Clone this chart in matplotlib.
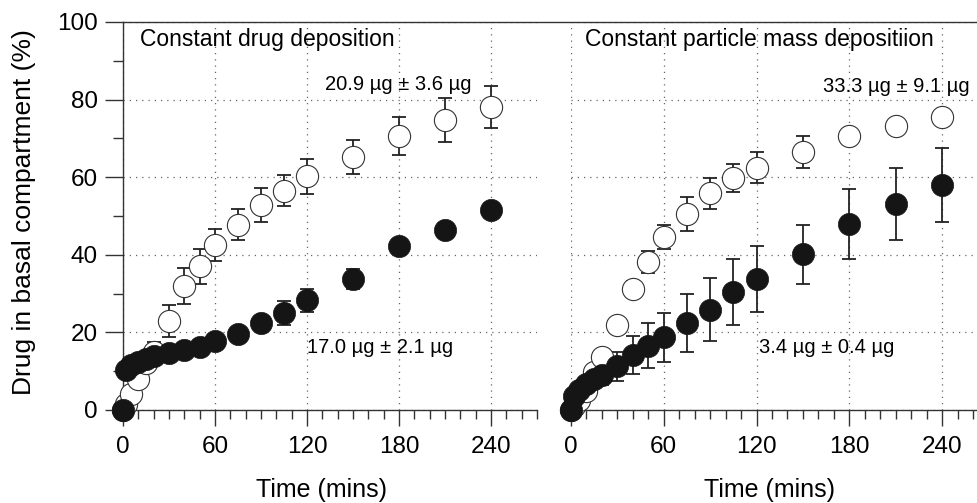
import matplotlib
matplotlib.use("Agg")
import matplotlib.pyplot as plt
from matplotlib.lines import Line2D
from matplotlib.ticker import MultipleLocator

plt.rcParams['font.family'] = ['Liberation Sans', 'DejaVu Sans']

# ---- data ----
time = [0, 2, 5, 10, 15, 20, 30, 40, 50, 60, 75, 90, 105, 120, 150, 180, 210, 240]

# Left panel: constant drug deposition
left_open = [0, 1.5, 4, 8, 12, 15, 23, 32, 37, 42.5, 47.7, 52.8, 56.5, 60.2, 65.2, 70.6, 74.7, 78.0]
left_open_err = [0, 0.5, 1, 1.5, 2, 2.5, 4.1, 4.7, 4.6, 4.1, 4.0, 4.3, 4.0, 4.5, 4.5, 4.8, 5.6, 5.4]
left_filled = [0, 10.3, 11.5, 12.5, 13.2, 13.8, 14.7, 15.5, 16.3, 17.7, 19.5, 22.4, 25.0, 28.3, 33.8, 42.3, 46.4, 51.5]
left_filled_err = [0, 0.5, 0.8, 1, 1, 1, 1, 1, 1.2, 1.2, 1.5, 1.8, 3.1, 3.0, 2.6, 1.5, 1.8, 1.5]

# Right panel: constant particle mass deposition
right_open = [0, 1, 2.5, 5, 9.8, 13.7, 21.9, 31.2, 38.2, 44.6, 50.5, 55.9, 59.8, 62.4, 66.5, 70.6, 73.2, 75.5]
right_open_err = [0, 0.3, 0.5, 1, 1.2, 1.5, 1.8, 2.0, 2.8, 3.0, 4.4, 4.0, 3.7, 4.0, 4.1, 1.5, 1.5, 1.5]
right_filled = [0, 3.5, 5.2, 6.8, 8.0, 9.0, 11.3, 14.2, 16.5, 18.8, 22.4, 25.8, 30.4, 33.8, 40.2, 47.9, 53.1, 58.0]
right_filled_err = [0, 0.5, 1, 1.5, 2, 2.5, 3.7, 5.0, 5.8, 6.3, 7.5, 8.1, 8.4, 8.5, 7.6, 9.0, 9.4, 9.6]

titles = ["Constant drug deposition", "Constant particle mass depositiion"]
open_labels = ["20.9 µg ± 3.6 µg", "33.3 µg ± 9.1 µg"]
filled_labels = ["17.0 µg ± 2.1 µg", "3.4 µg ± 0.4 µg"]
xticks = [0, 60, 120, 180, 240]
yticks = [0, 20, 40, 60, 80, 100]
xlabel = "Time (mins)"
ylabel = "Drug in basal compartment (%)"

W, H = 977, 503
fig = plt.figure(figsize=(W / 100, H / 100), dpi=100)

y0_px, y100_px = 410, 22
bottom = (H - y0_px) / H
height = (y0_px - y100_px) / H

axL = fig.add_axes([123 / W, bottom, (537 - 123) / W, height])
axR = fig.add_axes([571 / W, bottom, (977 - 571) / W, height], sharey=axL)

axL.set_xlim(0, 270)
axR.set_xlim(0, (977 - 571) / 1.546)
axL.set_ylim(0, 100)

spine_col = '#333333'
for ax in (axL, axR):
    ax.spines['top'].set_visible(False)
    ax.spines['right'].set_visible(False)
    ax.spines['bottom'].set_color(spine_col)
    ax.spines['left'].set_color(spine_col)
    ax.spines['bottom'].set_linewidth(1.0)
    ax.spines['left'].set_linewidth(1.0)
    ax.set_xticks(xticks)
    ax.xaxis.set_minor_locator(MultipleLocator(10))
    ax.tick_params(axis='x', which='major', length=11.5, width=1.0, direction='out',
                   pad=7, labelsize=17.5, color=spine_col)
    ax.tick_params(axis='x', which='minor', length=6.5, width=1.0, direction='out',
                   color=spine_col)
    ax.grid(True, which='major', linestyle=(0, (1, 4)), color='#666666', linewidth=0.9)
    ax.set_axisbelow(True)

axR.spines['left'].set_visible(False)
axL.set_yticks(yticks)
axL.yaxis.set_minor_locator(MultipleLocator(10))
axL.tick_params(axis='y', which='major', length=13, width=1.0, direction='out',
                pad=5, labelsize=17.5, color=spine_col)
axL.tick_params(axis='y', which='minor', length=7, width=1.0, direction='out', color=spine_col)
axR.tick_params(axis='y', which='both', left=False, labelleft=False)

datasets = [
    (axL, left_open, left_open_err, left_filled, left_filled_err),
    (axR, right_open, right_open_err, right_filled, right_filled_err),
]

for ax, yo, eo, yf, ef in datasets:
    for vals, errs in ((yo, eo), (yf, ef)):
        eb = ax.errorbar(time, vals, yerr=errs, fmt='none', ecolor='#222222',
                         elinewidth=1.3, capsize=5, capthick=1.3, zorder=2)
        for art in eb.get_children():
            art.set_clip_on(False)
    ax.plot(time, yo, 'o', ms=16, mfc='white', mec='#333333', mew=0.8,
            zorder=3, clip_on=False)
    ax.plot(time, yf, 'o', ms=16, mfc='#151515', mec='#151515', mew=0.5,
            zorder=4, clip_on=False)

# panel titles and annotations
axL.text(11.1, 95.4, titles[0], fontsize=16.5, ha='left', va='center')
axR.text(9.1, 95.4, titles[1], fontsize=16.5, ha='left', va='center')
axL.text(131.8, 83.8, open_labels[0], fontsize=14.5, ha='left', va='center')
axL.text(120.0, 16.0, filled_labels[0], fontsize=14.5, ha='left', va='center')
axR.text(163.0, 83.5, open_labels[1], fontsize=14.5, ha='left', va='center')
axR.text(121.6, 16.2, filled_labels[1], fontsize=14.5, ha='left', va='center')

# continuous top line across both panels
ytop = (H - y100_px) / H
fig.add_artist(Line2D([123 / W, 1.0], [ytop, ytop], transform=fig.transFigure,
                      color=spine_col, linewidth=1.0))

# axis labels
fig.text(321 / W, 1 - 490 / H, xlabel, fontsize=18, ha='center', va='center')
fig.text(769 / W, 1 - 490 / H, xlabel, fontsize=18, ha='center', va='center')
fig.text(24 / W, 1 - 212 / H, ylabel, fontsize=19, ha='center', va='center', rotation=90)

fig.savefig("out.png", dpi=100)
